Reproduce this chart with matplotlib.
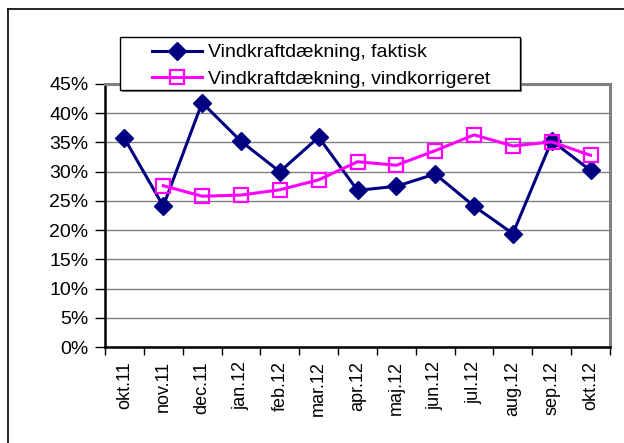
import matplotlib
matplotlib.use("Agg")
import matplotlib.pyplot as plt
from matplotlib.lines import Line2D
from matplotlib.patches import Rectangle
from matplotlib.ticker import FuncFormatter, MultipleLocator
import numpy as np

plt.rcParams['font.family'] = ['Liberation Sans', 'DejaVu Sans']

months = ["okt.11", "nov.11", "dec.11", "jan.12", "feb.12", "mar.12", "apr.12",
          "maj.12", "jun.12", "jul.12", "aug.12", "sep.12", "okt.12"]
faktisk = [35.7, 24.1, 41.8, 35.2, 30.0, 35.9, 26.8, 27.5, 29.6, 24.1, 19.4, 35.3, 30.2]
vindkorr = [None, 27.6, 25.8, 26.0, 26.9, 28.6, 31.7, 31.1, 33.6, 36.3, 34.4, 35.1, 32.8]
series_names = ["Vindkraftdækning, faktisk", "Vindkraftdækning, vindkorrigeret"]

fig = plt.figure(figsize=(6.24, 4.43), dpi=100)
W, H = 624, 443
ax = fig.add_axes([105 / W, 1 - 347 / H, (610 - 105) / W, (347 - 84) / H])

x = np.arange(len(months))
vk = np.array([np.nan if v is None else v for v in vindkorr], dtype=float)

ax.plot(x, faktisk, color="#000080", lw=2.2, marker="D", ms=9.5,
        markerfacecolor="#000080", markeredgecolor="#000080", zorder=3)
ax.plot(x, vk, color="#FF00FF", lw=2.2, marker="s", ms=10.5,
        markerfacecolor="none", markeredgecolor="#FF00FF", markeredgewidth=1.6, zorder=4)

ax.set_xlim(-0.5, len(months) - 0.5)
ax.set_ylim(0, 45)
ax.yaxis.set_major_locator(MultipleLocator(5))
ax.yaxis.set_major_formatter(FuncFormatter(lambda v, p: f"{int(round(v))}%"))
ax.grid(axis="y", color="#808080", lw=1.0)
ax.set_axisbelow(True)

ax.set_xticks(x)
ax.set_xticklabels(months, rotation=90, fontsize=13)
ax.set_xticks(np.arange(-0.5, len(months), 1.0), minor=True)
ax.tick_params(axis="x", which="major", length=0, pad=10)
ax.tick_params(axis="x", which="minor", length=6, width=1.0, color="#000000", direction="out")
ax.tick_params(axis="y", length=7, width=1.0, direction="out", labelsize=14, pad=5)

for s in ["left", "bottom"]:
    ax.spines[s].set_color("black")
    ax.spines[s].set_linewidth(1.8)
for s in ["top", "right"]:
    ax.spines[s].set_color("#808080")
    ax.spines[s].set_linewidth(2.2)

# outer chart frame (left and top visible)
fig.add_artist(Line2D([8 / W, 8 / W], [0, 1 - 9 / H], transform=fig.transFigure, color="black", lw=1.2))
fig.add_artist(Line2D([8 / W, 1], [1 - 9 / H, 1 - 9 / H], transform=fig.transFigure, color="black", lw=1.2))

# legend box with shadow
lx0, lx1, ly0, ly1 = 120, 520, 37, 90
fig.add_artist(Rectangle((lx0 / W + 2 / W, 1 - (ly1 + 2) / H), (lx1 - lx0) / W, (ly1 - ly0) / H,
                         transform=fig.transFigure, facecolor="#808080", edgecolor="none", zorder=5))
fig.add_artist(Rectangle((lx0 / W, 1 - ly1 / H), (lx1 - lx0) / W, (ly1 - ly0) / H,
                         transform=fig.transFigure, facecolor="white", edgecolor="black", lw=1.0, zorder=6))
handles = [Line2D([], [], color="#000080", lw=2.2, marker="D", ms=9.5, markerfacecolor="#000080"),
           Line2D([], [], color="#FF00FF", lw=2.2, marker="s", ms=10.5, markerfacecolor="none",
                  markeredgecolor="#FF00FF", markeredgewidth=1.6)]
leg = fig.legend(handles, series_names, loc="upper left", bbox_to_anchor=(147 / W, 1 - 39 / H),
                 frameon=False, fontsize=14, handlelength=2.6, handletextpad=0.3,
                 labelspacing=0.45, borderpad=0.25, borderaxespad=0)
leg.set_zorder(7)

fig.savefig("out.png", dpi=100)
